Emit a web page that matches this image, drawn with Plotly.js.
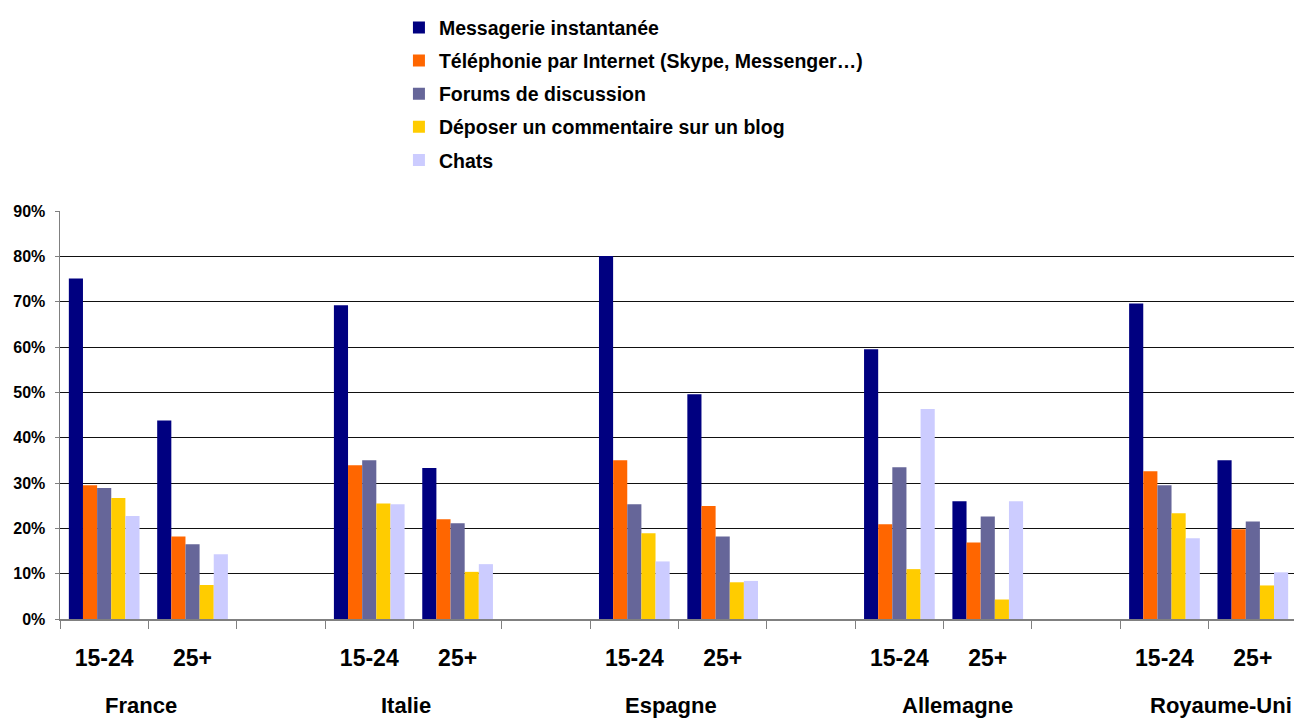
<!DOCTYPE html>
<html><head><meta charset="utf-8">
<script src="https://cdn.plot.ly/plotly-3.0.1.min.js"></script>
<style>html,body{margin:0;padding:0;overflow:hidden;background:#fff}#chart{width:1300px;height:718px}</style>
</head><body><div id="chart"></div>
<script>
const countries = ['France', 'Italie', 'Espagne', 'Allemagne', 'Royaume-Uni'];
const ageGroups = ['15-24', '25+'];
const seriesNames = [
  'Messagerie instantanée',
  'Téléphonie par Internet (Skype, Messenger…)',
  'Forums de discussion',
  'Déposer un commentaire sur un blog',
  'Chats'
];
// order: France 15-24, France 25+, Italie 15-24, Italie 25+, Espagne..., Allemagne..., Royaume-Uni...
const messagerie = [75.1, 43.8, 69.2, 33.3, 80.1, 49.6, 59.5, 26.0, 69.6, 35.0];
const telephonie = [29.5, 18.2, 33.9, 22.0, 35.0, 24.9, 20.9, 16.9, 32.6, 19.8];
const forums     = [28.9, 16.5, 35.0, 21.1, 25.3, 18.2, 33.5, 22.6, 29.5, 21.5];
const blog       = [26.7,  7.5, 25.5, 10.4, 18.9,  8.1, 11.0,  4.3, 23.3,  7.4];
const chats      = [22.7, 14.3, 25.3, 12.1, 12.7,  8.4, 46.3, 26.0, 17.8, 10.3];
const yTicks = [0, 10, 20, 30, 40, 50, 60, 70, 80, 90];
const yTickLabels = ['0%', '10%', '20%', '30%', '40%', '50%', '60%', '70%', '80%', '90%'];

const colors = ['#000080', '#FF6600', '#666699', '#FFCC00', '#CCCCFF'];
const labelShift = [-7, -7, -8, 14, 12];
const FONT = 'Liberation Sans, Arial, Helvetica, sans-serif';

const cats = [], tickText = [], valueIndex = [];
countries.forEach((c, ci) => {
  ageGroups.forEach((a, ai) => {
    cats.push(c + ' ' + a); tickText.push(a); valueIndex.push(ci * ageGroups.length + ai);
  });
  if (ci < countries.length - 1) { cats.push(c + ' —'); tickText.push(''); valueIndex.push(-1); }
});
const seriesValues = [messagerie, telephonie, forums, blog, chats];

const traces = seriesNames.map((n, si) => ({
  type: 'bar', name: n, x: cats,
  y: valueIndex.map(k => k < 0 ? null : seriesValues[si][k]),
  marker: {color: colors[si], line: {width: 0}},
  legendgroup: 'g' + si, hoverinfo: 'skip'
}));

const annotations = countries.map((c, ci) => ({
  text: c, xref: 'x', yref: 'paper',
  x: cats.indexOf(c + ' ' + ageGroups[0]) + 0.5, y: -0.213,
  xshift: labelShift[ci], xanchor: 'center', yanchor: 'middle', showarrow: false,
  font: {family: FONT, size: 22, color: '#000', weight: 700}
}));

const layout = {
  width: 1300, height: 718,
  margin: {l: 60, r: 3, t: 211, b: 99},
  paper_bgcolor: '#fff', plot_bgcolor: '#fff',
  barmode: 'group', bargap: 0.2, bargroupgap: 0,
  font: {family: FONT, color: '#000'},
  showlegend: true,
  legend: {
    x: 0.274, xanchor: 'left', xref: 'paper',
    y: 1.497, yanchor: 'top', yref: 'paper',
    orientation: 'v', traceorder: 'grouped', tracegroupgap: 4.8,
    font: {family: FONT, size: 19.5, color: '#000', weight: 700},
    bgcolor: 'rgba(0,0,0,0)', borderwidth: 0
  },
  xaxis: {
    type: 'category', categoryorder: 'array', categoryarray: cats,
    range: [-0.5, cats.length - 0.5],
    tickmode: 'array', tickvals: cats, ticktext: tickText,
    tickson: 'boundaries', ticks: 'outside', ticklen: 8, tickwidth: 1, tickcolor: '#808080',
    showline: true, linecolor: '#808080', linewidth: 1.5,
    showgrid: false, zeroline: false,
    tickfont: {family: FONT, size: 23, color: '#000', weight: 700},
    ticklabelstandoff: 18, fixedrange: true
  },
  yaxis: {
    range: [0, 90], tickmode: 'array', tickvals: yTicks, ticktext: yTickLabels,
    showgrid: true, gridcolor: '#111', gridwidth: 1,
    showline: true, linecolor: '#808080', linewidth: 1.5,
    ticks: 'outside', ticklen: 4, tickcolor: '#808080',
    zeroline: false,
    tickfont: {family: FONT, size: 16, color: '#000', weight: 700},
    ticklabelstandoff: 6, fixedrange: true
  },
  annotations: annotations
};

Plotly.newPlot('chart', traces, layout, {displayModeBar: false, staticPlot: true});
</script>
</body></html>
